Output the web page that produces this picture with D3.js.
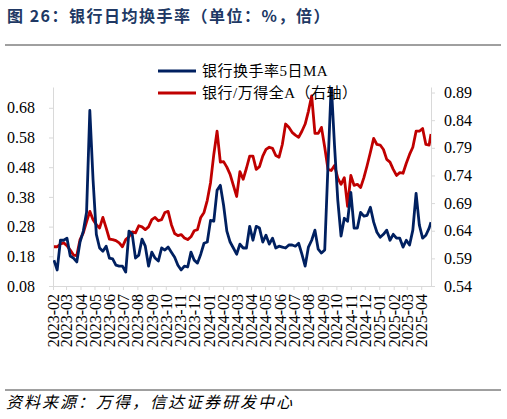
<!DOCTYPE html>
<html>
<head>
<meta charset="utf-8">
<script src="https://cdn.jsdelivr.net/npm/d3@7/dist/d3.min.js"></script>
<style>
  body { margin: 0; background: #fff; }
  svg { display: block; }
</style>
</head>
<body>
<div class="vis-turnover"></div>
<script>
// weekly readings (left: turnover %, right: bank / wind all A)
const dates = [
  "2023-02-03","2023-02-10","2023-02-17","2023-02-24","2023-03-03","2023-03-10","2023-03-17","2023-03-24","2023-03-31","2023-04-07",
  "2023-04-14","2023-04-21","2023-04-28","2023-05-05","2023-05-12","2023-05-19","2023-05-26","2023-06-02","2023-06-09","2023-06-16",
  "2023-06-23","2023-06-30","2023-07-07","2023-07-14","2023-07-21","2023-07-28","2023-08-04","2023-08-11","2023-08-18","2023-08-25",
  "2023-09-01","2023-09-08","2023-09-15","2023-09-22","2023-09-29","2023-10-06","2023-10-13","2023-10-20","2023-10-27","2023-11-03",
  "2023-11-10","2023-11-17","2023-11-24","2023-12-01","2023-12-08","2023-12-15","2023-12-22","2023-12-29","2024-01-05","2024-01-12",
  "2024-01-19","2024-01-26","2024-02-02","2024-02-09","2024-02-16","2024-02-23","2024-03-01","2024-03-08","2024-03-15","2024-03-22",
  "2024-03-29","2024-04-05","2024-04-12","2024-04-19","2024-04-26","2024-05-03","2024-05-10","2024-05-17","2024-05-24","2024-05-31",
  "2024-06-07","2024-06-14","2024-06-21","2024-06-28","2024-07-05","2024-07-12","2024-07-19","2024-07-26","2024-08-02","2024-08-09",
  "2024-08-16","2024-08-23","2024-08-30","2024-09-06","2024-09-13","2024-09-20","2024-09-27","2024-10-04","2024-10-11","2024-10-18",
  "2024-10-25","2024-11-01","2024-11-08","2024-11-15","2024-11-22","2024-11-29","2024-12-06","2024-12-13","2024-12-20","2024-12-27",
  "2025-01-03","2025-01-10","2025-01-17","2025-01-24","2025-01-31","2025-02-07","2025-02-14","2025-02-21","2025-02-28","2025-03-07",
  "2025-03-14","2025-03-21","2025-03-28","2025-04-04","2025-04-11","2025-04-18","2025-04-22"
];

const turnover = [
  0.167,0.134,0.234,0.234,0.241,0.181,0.174,0.161,0.228,0.265,
  0.328,0.671,0.436,0.254,0.208,0.197,0.214,0.174,0.171,0.150,
  0.147,0.147,0.127,0.265,0.254,0.174,0.184,0.238,0.214,0.147,
  0.194,0.174,0.164,0.208,0.201,0.211,0.194,0.177,0.150,0.134,
  0.147,0.144,0.194,0.167,0.157,0.187,0.224,0.228,0.301,0.298,
  0.402,0.419,0.352,0.265,0.228,0.208,0.187,0.221,0.208,0.208,
  0.281,0.234,0.281,0.275,0.228,0.251,0.221,0.241,0.208,0.214,
  0.211,0.208,0.218,0.218,0.214,0.224,0.187,0.147,0.211,0.234,
  0.268,0.204,0.191,0.201,0.486,0.760,0.553,0.369,0.248,0.308,
  0.298,0.395,0.275,0.275,0.328,0.315,0.318,0.345,0.295,0.261,
  0.244,0.254,0.268,0.234,0.254,0.241,0.241,0.211,0.234,0.218,
  0.268,0.392,0.285,0.241,0.251,0.275,0.295
];

const ratio = [
  0.611,0.611,0.616,0.618,0.613,0.605,0.596,0.595,0.624,0.636,
  0.656,0.675,0.660,0.651,0.645,0.664,0.645,0.625,0.624,0.622,
  0.618,0.611,0.624,0.629,0.638,0.636,0.649,0.647,0.642,0.647,
  0.660,0.664,0.658,0.660,0.673,0.675,0.651,0.635,0.631,0.633,
  0.627,0.624,0.629,0.640,0.642,0.664,0.673,0.695,0.727,0.778,
  0.820,0.764,0.765,0.755,0.742,0.722,0.702,0.747,0.733,0.753,
  0.775,0.775,0.751,0.756,0.775,0.787,0.791,0.789,0.776,0.773,
  0.796,0.833,0.827,0.818,0.813,0.809,0.820,0.833,0.856,0.884,
  0.816,0.816,0.827,0.791,0.751,0.749,0.758,0.735,0.724,0.736,
  0.684,0.740,0.722,0.724,0.718,0.736,0.758,0.782,0.807,0.796,
  0.795,0.787,0.769,0.764,0.751,0.740,0.745,0.744,0.762,0.778,
  0.791,0.820,0.820,0.825,0.796,0.795,0.815
];

const leftTicks = [0.08, 0.18, 0.28, 0.38, 0.48, 0.58, 0.68];
const rightTicks = [0.54, 0.59, 0.64, 0.69, 0.74, 0.79, 0.84, 0.89];
const seriesNames = ["银行换手率5日MA", "银行/万得全A（右轴）"];
const title = "图 26：银行日均换手率（单位：%，倍）";
const source = "资料来源：万得，信达证券研发中心";

const width = 507, height = 419;
const margin = {left: 53, right: 76, top: 87, bottom: 133};
const navy = "#002060", red = "#c00000", axisGrey = "#d9d9d9";
const serif = "'Liberation Serif','Times New Roman','Noto Sans CJK SC',serif";
const cjk = "'Noto Sans CJK SC','Noto Sans',sans-serif";

const parse = d3.timeParse("%Y-%m-%d");
const rows = dates.map((d, i) => ({date: parse(d), turnover: turnover[i], ratio: ratio[i]}));

const x = d3.scaleTime()
  .domain([new Date(2023, 1, 1), new Date(2025, 3, 22)])
  .range([margin.left, width - margin.right]);
const yL = d3.scaleLinear().domain([0.08, 0.75]).range([height - margin.bottom, margin.top]);
const yR = d3.scaleLinear().domain([0.54, 0.90]).range([height - margin.bottom, margin.top]);

const svg = d3.select(".vis-turnover").append("svg")
  .attr("width", width).attr("height", height)
  .attr("viewBox", [0, 0, width, height]);

// header
svg.append("text")
  .attr("x", 7).attr("y", 22)
  .attr("fill", "#203864")
  .style("font-family", cjk).style("font-weight", "bold")
  .style("font-size", "16px").style("letter-spacing", "1.5px")
  .text(title);
svg.append("line").attr("x1", 5).attr("x2", 501).attr("y1", 45).attr("y2", 45)
  .attr("stroke", "#404040").attr("stroke-width", 1);

// footer
svg.append("line").attr("x1", 5).attr("x2", 501).attr("y1", 390).attr("y2", 390)
  .attr("stroke", "#404040").attr("stroke-width", 1);
svg.append("text")
  .attr("x", 6).attr("y", 408)
  .attr("fill", "#000")
  .style("font-family", cjk).style("font-style", "italic")
  .style("font-size", "16px").style("letter-spacing", "2px")
  .text(source);

const styleAxis = g => {
  g.select(".domain").attr("stroke", axisGrey);
  g.selectAll(".tick line").attr("stroke", axisGrey);
  g.selectAll(".tick text")
    .attr("fill", "#000")
    .style("font-family", serif)
    .style("font-size", "16px");
};

svg.append("g")
  .attr("transform", `translate(${margin.left},0)`)
  .call(d3.axisLeft(yL).tickValues(leftTicks).tickFormat(d3.format(".2f"))
    .tickSize(4).tickSizeOuter(0).tickPadding(14))
  .call(styleAxis);

svg.append("g")
  .attr("transform", `translate(${width - margin.right},0)`)
  .call(d3.axisRight(yR).tickValues(rightTicks).tickFormat(d3.format(".2f"))
    .tickSize(4).tickSizeOuter(0).tickPadding(9))
  .call(styleAxis);

svg.append("g")
  .attr("transform", `translate(0,${height - margin.bottom})`)
  .call(d3.axisBottom(x).ticks(d3.timeMonth.every(1)).tickFormat(d3.timeFormat("%Y-%m"))
    .tickSize(4).tickSizeOuter(0))
  .call(styleAxis)
  .call(g => g.selectAll(".tick text")
    .attr("transform", "rotate(-90)")
    .attr("text-anchor", "end")
    .attr("x", -8).attr("y", 0).attr("dy", "0.35em"));

svg.append("clipPath").attr("id", "plot-clip")
  .append("rect")
  .attr("x", margin.left).attr("y", margin.top)
  .attr("width", width - margin.left - margin.right)
  .attr("height", height - margin.top - margin.bottom);

const plot = svg.append("g").attr("clip-path", "url(#plot-clip)");

plot.append("path")
  .datum(rows)
  .attr("fill", "none").attr("stroke", red).attr("stroke-width", 2.8)
  .attr("stroke-linejoin", "round")
  .attr("d", d3.line().x(d => x(d.date)).y(d => yR(d.ratio)));

plot.append("path")
  .datum(rows)
  .attr("fill", "none").attr("stroke", navy).attr("stroke-width", 2.8)
  .attr("stroke-linejoin", "round")
  .attr("d", d3.line().x(d => x(d.date)).y(d => yL(d.turnover)));

// legend
const legend = svg.append("g")
  .selectAll("g")
  .data(seriesNames)
  .join("g")
  .attr("transform", (d, i) => `translate(158,${71 + i * 22})`);
legend.append("line")
  .attr("x1", 0).attr("x2", 38)
  .attr("stroke", (d, i) => i === 0 ? navy : red)
  .attr("stroke-width", 3);
legend.append("text")
  .attr("x", 44).attr("dy", "0.36em")
  .attr("fill", "#000")
  .style("font-family", serif).style("font-size", "15px").style("letter-spacing", "0.5px")
  .text(d => d);
</script>
</body>
</html>
